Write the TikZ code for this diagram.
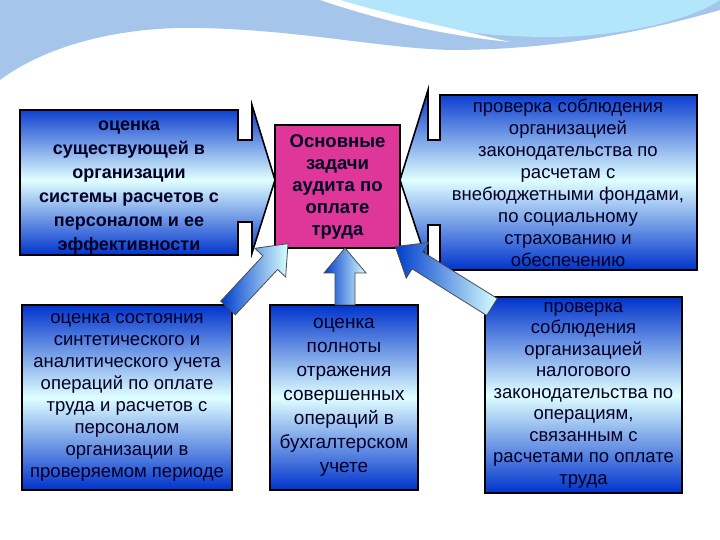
\documentclass[tikz,border=0pt]{standalone}
\usepackage{fontspec}
\setmainfont{Liberation Sans}
\begin{document}
\begin{tikzpicture}[x=1pt,y=1pt,
  bluefill/.style={draw=black,line width=1.6pt,top color=blue!75!cyan!80!black,bottom color=blue!75!cyan!80!black,middle color=cyan!12},
  arrfill/.style={draw=black!70,line width=0.8pt,left color=blue!70!cyan!80!black,right color=cyan!15},
  txt/.style={align=center,font=\fontsize{18.5}{22}\selectfont,text=black!85!blue}]
\useasboundingbox (0,0) rectangle (720,540);
\fill[white] (0,0) rectangle (720,540);
% wave
\fill[cyan!60!blue!35!white] (0,540) -- (720,540) -- (720,530) .. controls (650,510) and (560,490) .. (450,490) .. controls (380,492) and (300,510) .. (200,512) .. controls (110,514) and (40,490) .. (0,460) -- cycle;
\fill[cyan!30!white] (330,540) .. controls (380,520) and (450,505) .. (540,503) .. controls (620,502) and (690,520) .. (720,540) -- cycle;
\fill[white] (320,540) .. controls (380,520) and (440,505) .. (510,498) .. controls (450,512) and (390,525) .. (340,540) -- cycle;
% top callouts
\draw[bluefill] (20,430)--(238,430)--(238,400)--(252,400)--(252,435)--(275,360)--(252,287)--(252,318)--(238,318)--(238,285)--(20,285)--cycle;
\node[txt,font=\bfseries\fontsize{18}{24}\selectfont] (tl) at (129,352) {оценка\\существующей в\\организации\\системы расчетов с\\персоналом и ее\\эффективности};
\draw[bluefill] (697,445)--(440,445)--(440,400)--(428,400)--(428,450)--(400,360)--(428,275)--(428,315)--(440,315)--(440,270)--(697,270)--cycle;
\node[txt] (tr) at (568,357) {проверка соблюдения\\организацией\\законодательства по\\расчетам с\\внебюджетными фондами,\\по социальному\\страхованию и\\обеспечению};
% center
\node[draw=black,line width=1.6pt,fill=magenta!80!violet!85!white,minimum width=125pt,minimum height=123pt,txt,font=\bfseries\fontsize{18.5}{22}\selectfont] (c) at (337.5,353.5) {Основные\\задачи\\аудита по\\оплате\\труда};
% bottom boxes
\node[bluefill,minimum width=210pt,minimum height=185pt,txt,inner sep=0pt] (bl) at (127,142.5) {оценка состояния\\синтетического и\\аналитического учета\\операций по оплате\\труда и расчетов с\\персоналом\\организации в\\проверяемом периоде};
\node[bluefill,minimum width=148pt,minimum height=185pt,txt,font=\fontsize{19}{24}\selectfont,inner sep=0pt] (bm) at (344,142.5) {оценка\\полноты\\отражения\\совершенных\\операций в\\бухгалтерском\\учете};
\node[bluefill,minimum width=197pt,minimum height=196pt,txt,font=\fontsize{18.5}{21.5}\selectfont,inner sep=0pt] (br) at (583.5,145) {проверка\\соблюдения\\организацией\\налогового\\законодательства по\\операциям,\\связанным с\\расчетами по оплате\\труда};
% bottom block arrows
\begin{scope}[shift={(228,232)},rotate=47]
\draw[arrfill] (0,-10)--(62,-10)--(62,-21)--(88,0)--(62,21)--(62,10)--(0,10)--cycle;
\end{scope}
\begin{scope}[shift={(345,235)},rotate=90]
\draw[arrfill] (0,-10)--(32,-10)--(32,-21)--(57,0)--(32,21)--(32,10)--(0,10)--cycle;
\end{scope}
\begin{scope}[shift={(492,233)},rotate=148]
\draw[arrfill] (0,-10)--(88,-10)--(88,-21)--(114,0)--(88,21)--(88,10)--(0,10)--cycle;
\end{scope}
\end{tikzpicture}
\end{document}
